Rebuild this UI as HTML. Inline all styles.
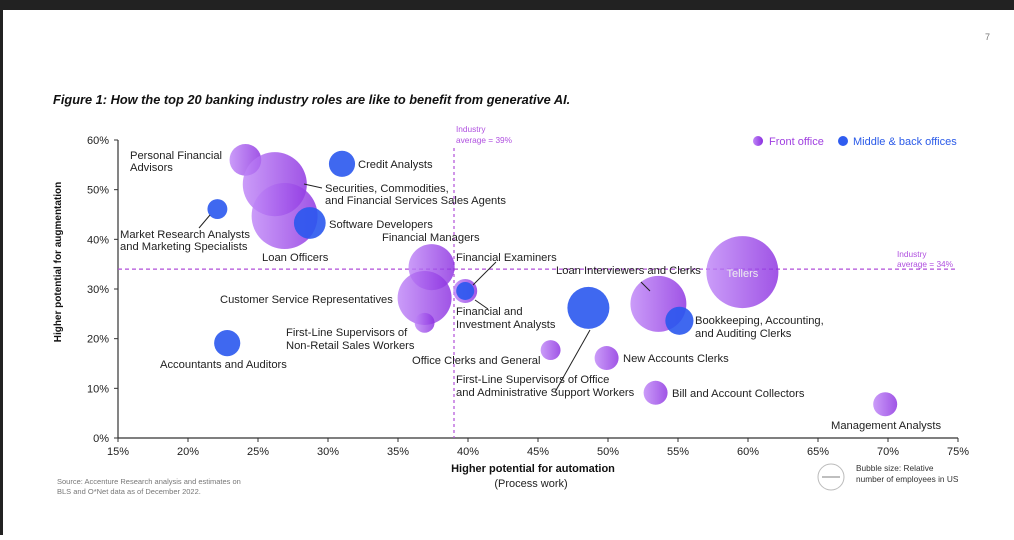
<!DOCTYPE html>
<html><head><meta charset="utf-8">
<style>
html,body{margin:0;padding:0;background:#fff;}
body{width:1014px;height:535px;overflow:hidden;position:relative;font-family:"Liberation Sans",sans-serif;}
svg text{font-family:"Liberation Sans",sans-serif;}
</style></head>
<body>
<svg id="chart" width="1014" height="535" viewBox="0 0 1014 535" xmlns="http://www.w3.org/2000/svg">
<defs>
<linearGradient id="pg" x1="0" y1="0" x2="1" y2="0">
<stop offset="0" stop-color="#bf86f7"/><stop offset="1" stop-color="#8b2fe0"/>
</linearGradient>
</defs>
<rect x="0" y="0" width="1014" height="10" fill="#222"/>
<rect x="0" y="0" width="3" height="535" fill="#222"/>
<text x="985" y="40" font-size="9" fill="#777">7</text>
<text x="53" y="104" font-size="12.8" font-weight="bold" font-style="italic" fill="#111">Figure 1: How the top 20 banking industry roles are like to benefit from generative AI.</text>
<g id="axes"></g>
<g id="avg"></g>
<g id="bubbles"></g>
<g id="labels" font-size="11.2" fill="#222"></g>
<text transform="translate(61,262) rotate(-90)" text-anchor="middle" font-size="10" font-weight="bold" fill="#111">Higher potential for augmentation</text>
<text x="533" y="472" text-anchor="middle" font-size="11" font-weight="bold" fill="#111">Higher potential for automation</text>
<text x="531" y="487" text-anchor="middle" font-size="11" fill="#222">(Process work)</text>
<text x="57" y="484" font-size="7.5" fill="#777">Source: Accenture Research analysis and estimates on</text>
<text x="57" y="494" font-size="7.5" fill="#777">BLS and O*Net data as of December 2022.</text>
<g>
<circle cx="831" cy="477" r="13" fill="none" stroke="#bbb" stroke-width="1"/>
<line x1="822" y1="477" x2="840" y2="477" stroke="#aaa" stroke-width="1.5"/>
<text x="856" y="471" font-size="8.3" fill="#333">Bubble size: Relative</text>
<text x="856" y="482" font-size="8.3" fill="#333">number of employees in US</text>
</g>
<g>
<circle cx="758" cy="141" r="5" fill="url(#pg)"/>
<text x="769" y="145" font-size="11" fill="#a040e0">Front office</text>
<circle cx="843" cy="141" r="5" fill="#2f5cf0"/>
<text x="853" y="145" font-size="11" fill="#2a5ae8">Middle &amp; back offices</text>
</g>
</svg>
<script>
const roles = ["Personal Financial Advisors","Securities Sales Agents","Loan Officers","Credit Analysts","Market Research Analysts","Software Developers","Financial Managers","Customer Service Representatives","First-Line Supervisors Non-Retail","Financial Examiners","Financial and Investment Analysts","Accountants and Auditors","Office Clerks","First-Line Supervisors Office","New Accounts Clerks","Loan Interviewers and Clerks","Bookkeeping Clerks","Tellers","Bill and Account Collectors","Management Analysts"];
const automation = [24.1,26.2,26.9,31.0,22.1,28.7,37.4,36.9,36.9,39.8,39.8,22.8,45.9,48.6,49.9,53.6,55.1,59.6,53.4,69.8];
const augmentation = [56.0,51.1,44.7,55.2,46.1,43.3,34.4,28.2,23.2,29.6,29.6,19.1,17.7,26.2,16.1,27.0,23.6,33.4,9.1,6.8];
const employees = [28,114,121,19,11,28,59,81,11,16,9,19,11,49,16,87,22,144,16,16];
const office = ["front","front","front","back","back","back","front","front","front","front","back","back","front","back","front","front","back","front","front","front"];
const xTicks = [15,20,25,30,35,40,45,50,55,60,65,70,75];
const yTicks = [0,10,20,30,40,50,60];
const avgAutomation = 39;
const avgAugmentation = 34;

const NS="http://www.w3.org/2000/svg";
const X0=118,X1=958,Y0=438,Y1=140;
function xs(v){return X0+(v-15)/(75-15)*(X1-X0);}
function ys(v){return Y0-(v-0)/(60-0)*(Y0-Y1);}
function rs(s){return Math.sqrt(s)*3;}
function mk(tag,attrs,parent){const e=document.createElementNS(NS,tag);for(const k in attrs)e.setAttribute(k,attrs[k]);parent.appendChild(e);return e;}

const axes=document.getElementById('axes');
let a=mk('line',{x1:X0,y1:Y1,x2:X0,y2:Y0,stroke:'#333','stroke-width':1.2},axes);


a=mk('line',{x1:X0,y1:Y0,x2:X1,y2:Y0,stroke:'#333','stroke-width':1.2},axes);


xTicks.forEach(t=>{
  mk('line',{x1:xs(t),y1:Y0,x2:xs(t),y2:Y0+4,stroke:'#333'},axes);
  const tx=mk('text',{x:xs(t),y:Y0+17,'text-anchor':'middle','font-size':11,fill:'#222'},axes);
  tx.textContent=t+'%';
  
  
});
yTicks.forEach(t=>{
  mk('line',{x1:X0-4,y1:ys(t),x2:X0,y2:ys(t),stroke:'#333'},axes);
  const tx=mk('text',{x:X0-9,y:ys(t)+4,'text-anchor':'end','font-size':11,fill:'#222'},axes);
  tx.textContent=t+'%';
  
  
});

const avg=document.getElementById('avg');
let l=mk('line',{x1:xs(avgAutomation),y1:148,x2:xs(avgAutomation),y2:Y0,stroke:'#b04fd8','stroke-width':1.2,'stroke-dasharray':'3,3'},avg);


l=mk('line',{x1:X0,y1:ys(avgAugmentation),x2:X1,y2:ys(avgAugmentation),stroke:'#b04fd8','stroke-width':1.2,'stroke-dasharray':'4,3'},avg);


[[xs(avgAutomation)+2,132,'Industry'],[xs(avgAutomation)+2,143,'average = 39%'],[897,257,'Industry'],[897,267,'average = 34%']].forEach(d=>{
  const t=mk('text',{x:d[0],y:d[1],'font-size':8.3,fill:'#b050e0'},avg);
  t.textContent=d[2];
  
  
});

const bg=document.getElementById('bubbles');
roles.forEach((r,i)=>{
  const c=mk('circle',{cx:xs(automation[i]),cy:ys(augmentation[i]),r:rs(employees[i]),
    fill:office[i]==='front'?'url(#pg)':'#2a58ee','fill-opacity':office[i]==='front'?0.82:0.9},bg);
  
  
});
const tl=mk('text',{x:xs(automation[17]),y:ys(augmentation[17])+5,'text-anchor':'middle','font-size':11,fill:'#eee'},bg);
tl.textContent='Tellers';



const lg=document.getElementById('labels');
const labels=[
 [130,159,'Personal Financial'],[130,171,'Advisors'],
 [358,168,'Credit Analysts'],
 [325,192,'Securities, Commodities,'],[325,204,'and Financial Services Sales Agents'],
 [120,238,'Market Research Analysts'],[120,250,'and Marketing Specialists'],
 [329,228,'Software Developers'],[382,241,'Financial Managers'],
 [262,261,'Loan Officers'],[456,261,'Financial Examiners'],
 [556,274,'Loan Interviewers and Clerks'],
 [220,303,'Customer Service Representatives'],
 [456,315,'Financial and'],[456,328,'Investment Analysts'],
 [286,336,'First-Line Supervisors of'],[286,349,'Non-Retail Sales Workers'],
 [695,324,'Bookkeeping, Accounting,'],[695,337,'and Auditing Clerks'],
 [160,368,'Accountants and Auditors'],[412,364,'Office Clerks and General'],
 [623,362,'New Accounts Clerks'],
 [456,383,'First-Line Supervisors of Office'],[456,396,'and Administrative Support Workers'],
 [672,397,'Bill and Account Collectors'],[831,429,'Management Analysts']
];
labels.forEach(d=>{
  const t=mk('text',{x:d[0],y:d[1]},lg);
  t.textContent=d[2];
  
  
});
[[304,184,322,188],[210,215,199,228],[473,285,496,262],[475,300,488,309],[590,330,555,392],[641,282,650,291]].forEach(d=>{
  const ln=mk('line',{x1:d[0],y1:d[1],x2:d[2],y2:d[3],stroke:'#222','stroke-width':1},lg);
  
  
});
</script>
</body></html>
